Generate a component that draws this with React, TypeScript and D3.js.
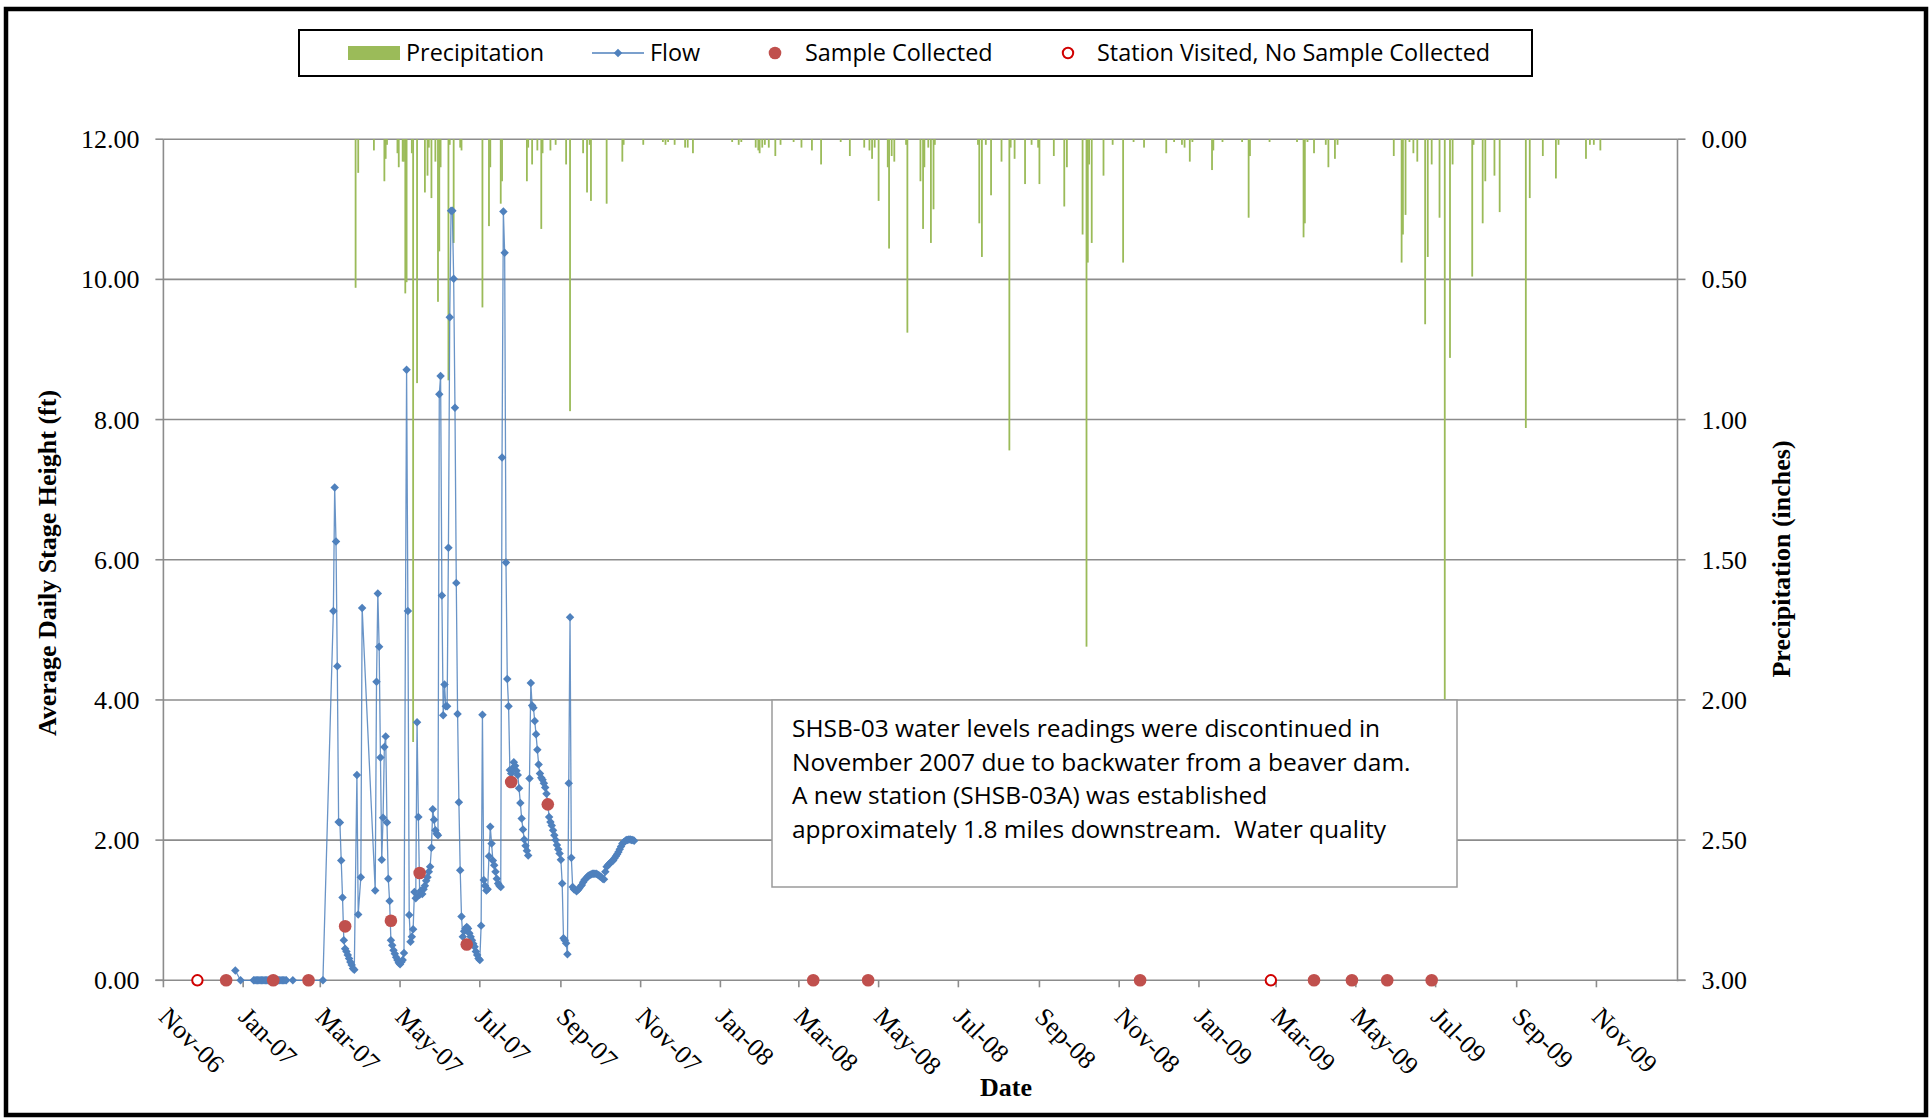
import React, { useEffect, useRef } from 'react';
import * as d3 from 'd3';

// Daily precipitation (inches), secondary axis (reversed)
const precipDates = [
  "2007-03-28", "2007-03-30", "2007-04-11", "2007-04-19", "2007-04-20", "2007-04-21", "2007-04-29", "2007-04-30",
  "2007-05-03", "2007-05-04", "2007-05-05", "2007-05-06", "2007-05-10", "2007-05-11", "2007-05-14", "2007-05-20",
  "2007-05-22", "2007-05-23", "2007-05-25", "2007-05-28", "2007-05-30", "2007-05-31", "2007-06-01", "2007-06-07",
  "2007-06-08", "2007-06-11", "2007-06-16", "2007-06-17", "2007-07-03", "2007-07-08", "2007-07-09", "2007-07-17",
  "2007-07-18", "2007-08-06", "2007-08-07", "2007-08-10", "2007-08-14", "2007-08-17", "2007-08-18", "2007-08-24",
  "2007-08-28", "2007-09-05", "2007-09-08", "2007-09-18", "2007-09-21", "2007-09-23", "2007-09-24", "2007-10-06",
  "2007-10-18", "2007-10-19", "2007-11-03", "2007-11-18", "2007-11-20", "2007-11-22", "2007-11-27", "2007-12-05",
  "2007-12-07", "2007-12-11",
  "2008-01-10", "2008-01-15", "2008-01-17", "2008-01-28", "2008-01-30", "2008-01-31", "2008-02-02", "2008-02-04",
  "2008-02-07", "2008-02-12", "2008-02-16", "2008-02-26", "2008-03-03", "2008-03-11", "2008-03-18", "2008-04-02",
  "2008-04-09", "2008-04-20", "2008-04-24", "2008-04-26", "2008-04-28", "2008-05-01", "2008-05-08", "2008-05-09",
  "2008-05-11", "2008-05-13", "2008-05-22", "2008-05-23", "2008-06-02", "2008-06-04", "2008-06-05", "2008-06-08",
  "2008-06-10", "2008-06-12", "2008-06-13", "2008-07-16", "2008-07-17", "2008-07-19", "2008-07-22", "2008-07-26",
  "2008-08-03", "2008-08-09", "2008-08-10", "2008-08-13", "2008-08-21", "2008-08-26", "2008-08-31", "2008-09-01",
  "2008-09-12", "2008-09-20", "2008-09-22", "2008-10-04", "2008-10-07", "2008-10-08", "2008-10-09", "2008-10-11",
  "2008-10-20", "2008-10-27", "2008-11-04", "2008-11-12", "2008-11-20", "2008-12-07", "2008-12-13", "2008-12-19",
  "2008-12-21", "2008-12-25", "2008-12-27",
  "2009-01-11", "2009-01-12", "2009-01-19", "2009-02-03", "2009-02-08", "2009-02-09", "2009-02-24", "2009-03-17",
  "2009-03-22", "2009-03-23", "2009-03-25", "2009-03-30", "2009-04-08", "2009-04-10", "2009-04-15", "2009-04-17",
  "2009-05-30", "2009-06-05", "2009-06-06", "2009-06-08", "2009-06-11", "2009-06-14", "2009-06-17", "2009-06-23",
  "2009-06-25", "2009-06-28", "2009-07-04", "2009-07-08", "2009-07-12", "2009-07-14", "2009-07-29", "2009-07-30",
  "2009-08-06", "2009-08-08", "2009-08-15", "2009-08-19", "2009-09-08", "2009-09-11", "2009-09-21", "2009-10-01",
  "2009-10-03", "2009-10-24", "2009-10-27", "2009-10-30", "2009-11-04"
];
const precipValues = [
  0.53, 0.12, 0.04, 0.15, 0.07, 0.02, 0.05, 0.10,
  0.08, 0.08, 0.55, 0.51, 0.05, 2.15, 0.87, 0.19,
  0.13, 0.03, 0.21, 0.08, 0.58, 0.40, 0.10, 0.86,
  0.02, 0.37, 0.03, 0.04, 0.60, 0.31, 0.10, 0.23,
  0.15, 0.15, 0.03, 0.09, 0.04, 0.32, 0.05, 0.04,
  0.02, 0.09, 0.97, 0.05, 0.19, 0.02, 0.22, 0.23,
  0.08, 0.02, 0.02, 0.01, 0.02, 0.01, 0.02, 0.03,
  0.03, 0.05,
  0.01, 0.02, 0.01, 0.03, 0.04, 0.05, 0.03, 0.02,
  0.03, 0.06, 0.02, 0.01, 0.03, 0.04, 0.09, 0.01,
  0.06, 0.03, 0.04, 0.07, 0.03, 0.22, 0.10, 0.39,
  0.06, 0.08, 0.02, 0.69, 0.15, 0.32, 0.10, 0.03,
  0.37, 0.25, 0.02, 0.02, 0.30, 0.42, 0.02, 0.20,
  0.08, 1.11, 0.03, 0.07, 0.16, 0.02, 0.03, 0.16,
  0.06, 0.24, 0.10, 0.34, 1.81, 0.44, 0.09, 0.37,
  0.13, 0.02, 0.44, 0.01, 0.03, 0.05, 0.01, 0.02,
  0.03, 0.08, 0.01,
  0.11, 0.04, 0.01, 0.01, 0.28, 0.06, 0.01, 0.01,
  0.35, 0.30, 0.01, 0.05, 0.02, 0.10, 0.07, 0.02,
  0.06, 0.44, 0.34, 0.27, 0.01, 0.05, 0.08, 0.66,
  0.42, 0.09, 0.28, 2.00, 0.78, 0.09, 0.49, 0.02,
  0.30, 0.15, 0.13, 0.26, 1.03, 0.21, 0.06, 0.14,
  0.02, 0.07, 0.02, 0.02, 0.04
];

// Average daily stage height (ft)
const flowSpotDates = ["2006-12-26", "2006-12-30", "2007-02-08", "2007-03-03"];
const flowSpotValues = [0.14, 0, 0, 0];

const flowJanStart = "2007-01-09";
const flowJanValues = [
  0, 0, 0, 0, 0, 0, 0, 0, 0, 0, 0, 0, 0,
  0, 0, 0, 0, 0, 0, 0, 0, 0, 0, 0, 0, 0
];

// daily from 2007-03-11, null = no reading
const flowStart = "2007-03-11";
const flowValues = [
  5.27, 7.03, 6.26, 4.48, 2.26, 2.25, 1.71, 1.18, 0.57, 0.45, 0.41, 0.36, 0.31, 0.26, 0.22, 0.17, 0.15,
  null, 2.93, 0.94, null, 1.47, 5.31,
  null, null, null, null, null, null, null, null, null,
  1.28, 4.26, 5.52, 4.76, 3.18, 1.72, 2.32, 3.33, 3.48, 2.25, 1.45, 1.13, 0.57, 0.50, 0.43, 0.38,
  0.33, 0.29, 0.25, 0.23, 0.26, 0.29, 0.39,
  null,
  8.71, 5.27, 0.93, 0.55, 0.62, 0.73, 1.26, 1.17, 3.68, 2.33, 1.22, 1.28, 1.23, 1.30, 1.35, 1.42, 1.47, 1.55,
  1.62, 1.89, 2.44, 2.29, 2.14, 2.09, 2.07, 8.36, 8.62, 5.49, 3.78, 4.22, 3.91, 3.91, 6.17, 9.46, 10.98,
  10.98, 10.01, 8.17, 5.67, 3.80, 2.54,
  1.57, 0.91, 0.62, 0.70, 0.74, 0.76, 0.74, 0.67, 0.62, 0.57, 0.52, 0.48, 0.41, 0.36, 0.31, 0.29, 0.78,
  3.79, 1.43, 1.35, 1.28, 1.30, 1.77, 2.19, 1.95, 1.71, 1.64, 1.55, 1.45, 1.38, 1.35, 1.33,
  7.46, 10.97, 10.38, 5.96, 4.30, 3.91, 3.00, 2.95, 3.02, 3.11, 3.06, 2.99, 2.93, 2.74, 2.53, 2.31, 2.15,
  2.01, 1.92, 1.85, 1.78,
  2.88, 4.24, 3.92, 3.89, 3.70, 3.51, 3.29, 3.08, 2.95, 2.89, 2.86, 2.81, 2.75, 2.66, 2.51, 2.33, 2.26,
  2.21, 2.14, 2.07, 2.00, 1.93, 1.87, 1.81, 1.72, 1.38, 0.60, 0.57, 0.53, 0.37, 2.81, 5.18, 1.75,
  1.33, 1.30, 1.29, 1.27, 1.29, 1.31, 1.34, 1.36, 1.40, 1.43, 1.45, 1.47, 1.49, 1.50, 1.51, 1.52, 1.52,
  1.52, 1.52, 1.51, 1.50, 1.48, 1.47, 1.45, 1.44, 1.55, 1.62, 1.64, 1.66, 1.68, 1.70, 1.71, 1.74, 1.77,
  1.80, 1.83, 1.87, 1.91, 1.95, 1.97, 1.98, 2.00, 2.00, 2.01, 2.01, 2.00, 2.00, 1.99
];

const sampleDates = [
  "2006-12-19", "2007-01-24", "2007-02-20", "2007-03-20", "2007-04-24", "2007-05-16", "2007-06-21",
  "2007-07-25", "2007-08-22", "2008-03-12", "2008-04-23", "2008-11-17", "2009-03-30", "2009-04-28",
  "2009-05-25", "2009-06-28"
];
const sampleValues = [0, 0, 0, 0.77, 0.85, 1.53, 0.51, 2.83, 2.51, 0, 0, 0, 0, 0, 0, 0];

const visitDates = ["2006-11-27", "2009-02-25"];
const visitValues = [0, 0];

const leftTicks = [0, 2, 4, 6, 8, 10, 12];
const rightTicks = [0, 0.5, 1, 1.5, 2, 2.5, 3];
const dateTicks = [
  "2006-11-01", "2007-01-01", "2007-03-01", "2007-05-01", "2007-07-01", "2007-09-01", "2007-11-01",
  "2008-01-01", "2008-03-01", "2008-05-01", "2008-07-01", "2008-09-01", "2008-11-01",
  "2009-01-01", "2009-03-01", "2009-05-01", "2009-07-01", "2009-09-01", "2009-11-01"
];

const noteLines = [
  "SHSB-03 water levels readings were discontinued in",
  "November 2007 due to backwater from a beaver dam.",
  "A new station (SHSB-03A) was established",
  "approximately 1.8 miles downstream.  Water quality"
];

const StageChart: React.FC<{ width?: number; height?: number }> = ({ width = 1931, height = 1119 }) => {
  const svgRef = useRef<SVGSVGElement>(null);

  useEffect(() => {
    if (!svgRef.current) return;
    const svg = d3.select(svgRef.current);
    svg.selectAll("*").remove();

    const colors = {
      precip: "#9bbb59",
      flow: "#4f81bd",
      sample: "#c0504d",
      visit: "#d00000",
      grid: "#8c8c8c",
      text: "#000000"
    };
    const serif = "'Liberation Serif', 'Times New Roman', serif";
    const sans = "'Open Sans', sans-serif";

    const plot = { left: 163.4, right: 1677.5, top: 139.2, bottom: 980.3 };
    const parse = d3.timeParse("%Y-%m-%d");

    const x = d3.scaleTime()
      .domain([new Date(2006, 10, 1), new Date(2010, 0, 2)])
      .range([plot.left, plot.right]);
    const y = d3.scaleLinear().domain([0, 12]).range([plot.bottom, plot.top]);
    const yR = d3.scaleLinear().domain([0, 3]).range([plot.top, plot.bottom]);

    // data assembly
    const precip = precipDates.map((d, i) => ({ date: parse(d) as Date, value: precipValues[i] }));
    const flowA = flowSpotDates.map((d, i) => ({ date: parse(d) as Date, value: flowSpotValues[i] as number | null }));
    const janStart = parse(flowJanStart) as Date;
    const flowB = flowJanValues.map((v, i) => ({ date: d3.timeDay.offset(janStart, i), value: v as number | null }));
    const mainStart = parse(flowStart) as Date;
    const flowC = flowValues.map((v, i) => ({ date: d3.timeDay.offset(mainStart, i), value: v }));
    const flow = [...flowA, ...flowB, ...flowC]
      .filter(d => d.value !== null)
      .sort((a, b) => +a.date - +b.date) as { date: Date; value: number }[];
    const samples = sampleDates.map((d, i) => ({ date: parse(d) as Date, value: sampleValues[i] }));
    const visits = visitDates.map((d, i) => ({ date: parse(d) as Date, value: visitValues[i] }));

    // background + outer frame
    svg.append("rect").attr("width", width).attr("height", height).attr("fill", "#fff");
    svg.append("rect")
      .attr("x", 6).attr("y", 9).attr("width", 1920).attr("height", 1106)
      .attr("fill", "none").attr("stroke", "#000").attr("stroke-width", 4.5);

    // gridlines
    svg.append("g")
      .selectAll("line")
      .data(leftTicks.filter(t => t > 0))
      .enter().append("line")
      .attr("x1", plot.left).attr("x2", plot.right)
      .attr("y1", d => y(d)).attr("y2", d => y(d))
      .attr("stroke", colors.grid).attr("stroke-width", 1.6);

    // precipitation columns hanging from the top
    svg.append("g")
      .selectAll("rect")
      .data(precip)
      .enter().append("rect")
      .attr("x", d => x(d.date) - 0.9)
      .attr("y", yR(0))
      .attr("width", 1.8)
      .attr("height", d => yR(d.value) - yR(0))
      .attr("fill", colors.precip);

    // axes
    const axisG = svg.append("g").attr("stroke", colors.grid).attr("stroke-width", 1.6);
    axisG.append("line").attr("x1", plot.left).attr("x2", plot.left).attr("y1", plot.top).attr("y2", plot.bottom + 1);
    axisG.append("line").attr("x1", plot.right).attr("x2", plot.right).attr("y1", plot.top).attr("y2", plot.bottom + 1);
    axisG.append("line").attr("x1", plot.left - 8).attr("x2", plot.right + 8).attr("y1", plot.bottom).attr("y2", plot.bottom);
    axisG.selectAll(".tl").data(leftTicks).enter().append("line")
      .attr("x1", plot.left - 8).attr("x2", plot.left)
      .attr("y1", d => y(d)).attr("y2", d => y(d));
    axisG.selectAll(".tr").data(rightTicks).enter().append("line")
      .attr("x1", plot.right).attr("x2", plot.right + 8)
      .attr("y1", d => yR(d)).attr("y2", d => yR(d));
    axisG.selectAll(".tb").data(dateTicks).enter().append("line")
      .attr("x1", d => x(parse(d) as Date)).attr("x2", d => x(parse(d) as Date))
      .attr("y1", plot.bottom).attr("y2", plot.bottom + 7);

    // tick labels
    svg.append("g").selectAll("text").data(leftTicks).enter().append("text")
      .attr("x", plot.left - 24).attr("y", d => y(d)).attr("dy", "0.35em")
      .attr("text-anchor", "end")
      .attr("font-family", serif).attr("font-size", "26px").attr("fill", colors.text)
      .text(d => d3.format(".2f")(d));

    svg.append("g").selectAll("text").data(rightTicks).enter().append("text")
      .attr("x", plot.right + 24).attr("y", d => yR(d)).attr("dy", "0.35em")
      .attr("text-anchor", "start")
      .attr("font-family", serif).attr("font-size", "26px").attr("fill", colors.text)
      .text(d => d3.format(".2f")(d));

    const fmt = d3.timeFormat("%b-%y");
    svg.append("g").selectAll("text").data(dateTicks).enter().append("text")
      .attr("transform", d => `translate(${x(parse(d) as Date) - 6},${plot.bottom + 38}) rotate(45)`)
      .attr("text-anchor", "start")
      .attr("font-family", serif).attr("font-size", "26px").attr("fill", colors.text)
      .text(d => fmt(parse(d) as Date));

    // axis titles
    svg.append("text")
      .attr("transform", "translate(47,563) rotate(-90)")
      .attr("dy", "0.35em")
      .attr("text-anchor", "middle")
      .attr("font-family", serif).attr("font-weight", "700").attr("font-size", "26px")
      .text("Average Daily Stage Height (ft)");

    svg.append("text")
      .attr("transform", "translate(1781,559) rotate(-90)")
      .attr("dy", "0.35em")
      .attr("text-anchor", "middle")
      .attr("font-family", serif).attr("font-weight", "700").attr("font-size", "26px")
      .text("Precipitation (inches)");

    svg.append("text")
      .attr("x", 1006).attr("y", 1096)
      .attr("text-anchor", "middle")
      .attr("font-family", serif).attr("font-weight", "700").attr("font-size", "26px")
      .text("Date");

    // flow line + diamond markers
    const line = d3.line<{ date: Date; value: number }>()
      .x(d => x(d.date))
      .y(d => y(d.value));

    svg.append("path")
      .datum(flow)
      .attr("fill", "none")
      .attr("stroke", colors.flow)
      .attr("stroke-width", 1.3)
      .attr("stroke-opacity", 0.85)
      .attr("d", line);

    const diamond = d3.symbol().type(d3.symbolSquare).size(36);
    svg.append("g").selectAll("path").data(flow).enter().append("path")
      .attr("d", diamond)
      .attr("transform", d => `translate(${x(d.date)},${y(d.value)}) rotate(45)`)
      .attr("fill", colors.flow);

    // samples
    svg.append("g").selectAll("circle").data(samples).enter().append("circle")
      .attr("cx", d => x(d.date)).attr("cy", d => y(d.value))
      .attr("r", 6.3)
      .attr("fill", colors.sample);

    svg.append("g").selectAll("circle").data(visits).enter().append("circle")
      .attr("cx", d => x(d.date)).attr("cy", d => y(d.value))
      .attr("r", 5.2)
      .attr("fill", "#fff")
      .attr("stroke", colors.visit)
      .attr("stroke-width", 2);

    // annotation box
    const note = svg.append("g");
    note.append("rect")
      .attr("x", 772).attr("y", 700).attr("width", 685).attr("height", 187)
      .attr("fill", "#fff").attr("stroke", "#9a9a9a").attr("stroke-width", 1.5);
    note.selectAll("text").data(noteLines).enter().append("text")
      .attr("x", 792).attr("y", (_, i) => 737 + i * 33.7)
      .attr("font-family", sans).attr("font-size", "24.5px").attr("fill", colors.text)
      .attr("xml:space", "preserve")
      .style("white-space", "pre")
      .text(d => d);

    // legend
    const lg = svg.append("g");
    lg.append("rect")
      .attr("x", 299).attr("y", 30).attr("width", 1233).attr("height", 46)
      .attr("fill", "#fff").attr("stroke", "#000").attr("stroke-width", 2);
    const ly = 53;
    lg.append("rect").attr("x", 348).attr("y", ly - 7).attr("width", 52).attr("height", 14).attr("fill", colors.precip);
    lg.append("line").attr("x1", 592).attr("x2", 644).attr("y1", ly).attr("y2", ly)
      .attr("stroke", colors.flow).attr("stroke-width", 1.3);
    lg.append("path").attr("d", diamond).attr("transform", `translate(618,${ly}) rotate(45)`).attr("fill", colors.flow);
    lg.append("circle").attr("cx", 775).attr("cy", ly).attr("r", 6.3).attr("fill", colors.sample);
    lg.append("circle").attr("cx", 1068).attr("cy", ly).attr("r", 5.2)
      .attr("fill", "#fff").attr("stroke", colors.visit).attr("stroke-width", 2);
    const legendText = [
      { x: 406, t: "Precipitation" },
      { x: 650, t: "Flow" },
      { x: 805, t: "Sample Collected" },
      { x: 1097, t: "Station Visited, No Sample Collected" }
    ];
    lg.selectAll("text").data(legendText).enter().append("text")
      .attr("x", d => d.x).attr("y", ly).attr("dy", "0.36em")
      .attr("font-family", sans).attr("font-size", "23.4px").attr("fill", colors.text)
      .text(d => d.t);
  }, [width, height]);

  return (
    <svg
      ref={svgRef}
      width={width}
      height={height}
      viewBox={`0 0 ${width} ${height}`}
      style={{ position: 'absolute', left: 0, top: 0, display: 'block' }}
    />
  );
};

export default function App() {
  return <StageChart />;
}
